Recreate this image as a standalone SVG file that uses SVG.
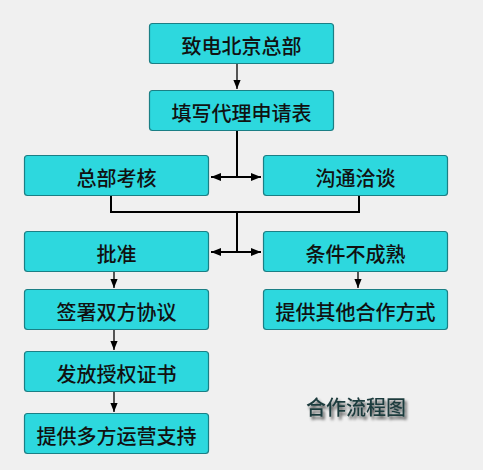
<svg xmlns="http://www.w3.org/2000/svg" width="483" height="470" viewBox="0 0 483 470">
<defs>
<style>
.box{fill:#2dd8de;stroke:#1b7f85;stroke-width:1.2}
.lbl{font-family:"Noto Sans CJK SC","DejaVu Sans",sans-serif;font-size:20px;font-weight:500;fill:#111;text-anchor:middle;dominant-baseline:central}
.ln{fill:none;stroke:#000;stroke-width:2}
.thin{fill:none;stroke:#000;stroke-width:1.3}
.title{font-family:"Noto Sans CJK SC","DejaVu Sans",sans-serif;font-size:20px;font-weight:500;fill:#1d3b3d;text-anchor:middle;dominant-baseline:central}
</style>
<marker id="ah" viewBox="0 0 10 10" refX="10" refY="5" markerWidth="5" markerHeight="5" orient="auto-start-reverse" markerUnits="strokeWidth">
<path d="M0,1 L10,5 L0,9 z" fill="#000"/>
</marker>
<marker id="ahs" viewBox="0 0 10 10" refX="10" refY="5" markerWidth="7" markerHeight="9" orient="auto" markerUnits="strokeWidth">
<path d="M0,1 L10,5 L0,9 z" fill="#000"/>
</marker>
<filter id="sh" x="-20%" y="-50%" width="150%" height="220%">
<feGaussianBlur in="SourceAlpha" stdDeviation="1.8"/>
<feOffset dx="2" dy="3" result="b"/>
<feComponentTransfer><feFuncA type="linear" slope="0.7"/></feComponentTransfer>
<feMerge><feMergeNode/><feMergeNode in="SourceGraphic"/></feMerge>
</filter>
</defs>
<rect width="483" height="470" fill="#f0f0f0"/>
<g id="connectors">
<line class="thin" x1="237" y1="63" x2="237" y2="89" marker-end="url(#ahs)"/>
<line class="ln" x1="237" y1="130" x2="237" y2="177"/>
<line class="ln" x1="211" y1="177" x2="261" y2="177" marker-start="url(#ah)" marker-end="url(#ah)"/>
<polyline class="ln" points="111,195 111,212 359,212 359,195"/>
<line class="ln" x1="237" y1="212" x2="237" y2="252"/>
<line class="ln" x1="211" y1="252" x2="261" y2="252" marker-start="url(#ah)" marker-end="url(#ah)"/>
<line class="thin" x1="114" y1="271" x2="114" y2="288" marker-end="url(#ahs)"/>
<line class="thin" x1="358" y1="271" x2="358" y2="288" marker-end="url(#ahs)"/>
<line class="thin" x1="114" y1="329" x2="114" y2="350" marker-end="url(#ahs)"/>
<line class="thin" x1="114" y1="391" x2="114" y2="412" marker-end="url(#ahs)"/>
</g>
<g id="n1"><rect class="box" x="149.5" y="23.5" width="184" height="40" rx="3"/><text class="lbl" x="241.5" y="45">致电北京总部</text></g>
<g id="n2"><rect class="box" x="149.5" y="90.5" width="184" height="40" rx="3"/><text class="lbl" x="241.5" y="112">填写代理申请表</text></g>
<g id="n3"><rect class="box" x="24.5" y="155.5" width="184" height="40" rx="3"/><text class="lbl" x="116.5" y="177">总部考核</text></g>
<g id="n4"><rect class="box" x="263.5" y="155.5" width="184" height="40" rx="3"/><text class="lbl" x="355.5" y="177">沟通洽谈</text></g>
<g id="n5"><rect class="box" x="24.5" y="231.5" width="184" height="40" rx="3"/><text class="lbl" x="116.5" y="253">批准</text></g>
<g id="n6"><rect class="box" x="263.5" y="231.5" width="184" height="40" rx="3"/><text class="lbl" x="355.5" y="253">条件不成熟</text></g>
<g id="n7"><rect class="box" x="24.5" y="289.5" width="184" height="40" rx="3"/><text class="lbl" x="116.5" y="311">签署双方协议</text></g>
<g id="n8"><rect class="box" x="263.5" y="289.5" width="184" height="40" rx="3"/><text class="lbl" x="355.5" y="311">提供其他合作方式</text></g>
<g id="n9"><rect class="box" x="24.5" y="351.5" width="184" height="40" rx="3"/><text class="lbl" x="116.5" y="373">发放授权证书</text></g>
<g id="n10"><rect class="box" x="24.5" y="413.5" width="184" height="40" rx="3"/><text class="lbl" x="116.5" y="435">提供多方运营支持</text></g>
<text class="title" x="356" y="406" filter="url(#sh)">合作流程图</text>
</svg>
